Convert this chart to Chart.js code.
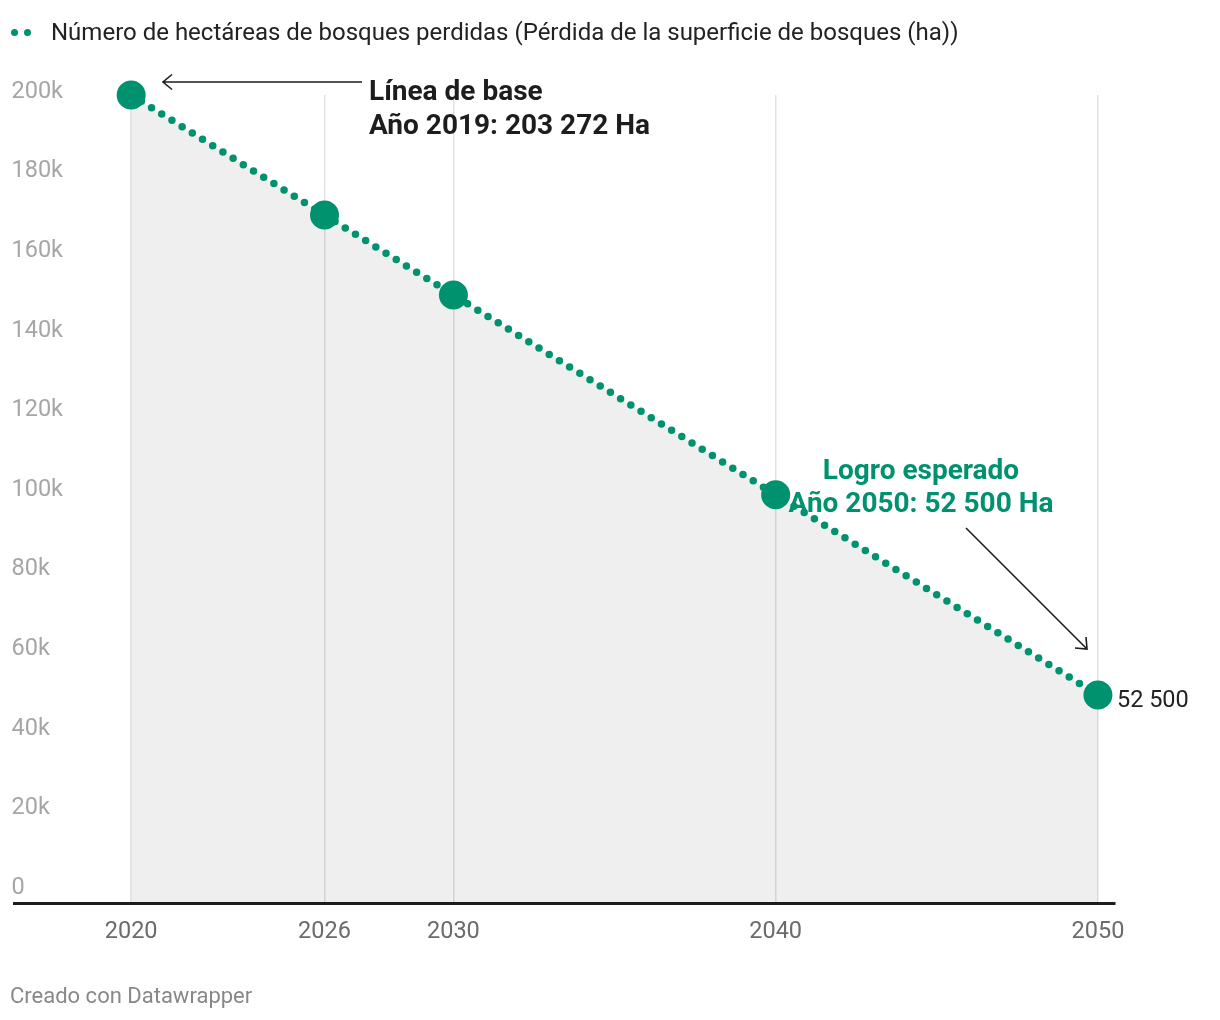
<!DOCTYPE html>
<html>
<head>
<meta charset="utf-8">
<script src="https://cdn.jsdelivr.net/npm/chart.js@4.4.1/dist/chart.umd.min.js"></script>
<style>
  html, body { margin: 0; padding: 0; background: #fff; }
  #wrap { position: relative; width: 1220px; height: 1020px; font-family: Roboto, "Noto Sans", sans-serif; }
  #legend { position: absolute; left: 11px; top: 18px; font-size: 24px; color: #222; display: flex; align-items: center; white-space: nowrap; }
  #legend .dots { display: inline-flex; gap: 6px; margin-right: 20px; }
  #legend .dots span { width: 7px; height: 7px; border-radius: 50%; background: #00916e; display: inline-block; }
  #footer { position: absolute; left: 10px; top: 983px; font-size: 22px; color: #888; }
  canvas { position: absolute; left: 0; top: 0; }
</style>
</head>
<body>
<div id="wrap">
  <canvas id="c" width="1220" height="1020"></canvas>
  <div id="legend"><span class="dots"><span></span><span></span></span>Número de hectáreas de bosques perdidas (Pérdida de la superficie de bosques (ha))</div>
  <div id="footer">Creado con Datawrapper</div>
</div>
<script>
// ---- data ----
const years = [2020, 2026, 2030, 2040, 2050];
const hectares = [203272, 173100, 153000, 102800, 52500];
const xTickValues = [2020, 2026, 2030, 2040, 2050];
const yTickValues = [0, 20000, 40000, 60000, 80000, 100000, 120000, 140000, 160000, 180000, 200000];
const seriesLabel = "Número de hectáreas de bosques perdidas (Pérdida de la superficie de bosques (ha))";
const endLabel = "52 500";

const GREEN = '#00916e';
const FONT = 'Roboto, "Noto Sans", sans-serif';

const annotations = {
  id: 'annotations',
  afterDatasetsDraw(chart) {
    const ctx = chart.ctx;
    const xs = chart.scales.x, ys = chart.scales.y;
    ctx.save();
    // baseline annotation
    ctx.fillStyle = '#1d1d1d';
    ctx.font = 'bold 28px ' + FONT;
    ctx.textAlign = 'left';
    ctx.textBaseline = 'middle';
    ctx.fillText('Línea de base', 369, 93);
    ctx.fillText('Año 2019: 203 272 Ha', 369, 127);
    // arrow 1
    ctx.strokeStyle = '#1d1d1d';
    ctx.lineWidth = 1.6;
    ctx.beginPath();
    ctx.moveTo(362, 82); ctx.lineTo(163, 82);
    ctx.moveTo(172, 74.5); ctx.lineTo(163, 82); ctx.lineTo(172, 89.5);
    ctx.stroke();
    // expected annotation
    ctx.fillStyle = GREEN;
    ctx.textAlign = 'center';
    ctx.fillText('Logro esperado', 921, 472);
    ctx.fillText('Año 2050: 52 500 Ha', 921, 505);
    // arrow 2
    ctx.beginPath();
    ctx.moveTo(966, 528); ctx.lineTo(1087, 649);
    ctx.moveTo(1075, 648); ctx.lineTo(1087, 649); ctx.lineTo(1086, 637);
    ctx.stroke();
    // end value label
    const lx = xs.getPixelForValue(years[years.length - 1]);
    const ly = ys.getPixelForValue(hectares[hectares.length - 1]);
    ctx.fillStyle = '#222';
    ctx.font = '23.5px ' + FONT;
    ctx.textAlign = 'left';
    ctx.fillText(endLabel, lx + 19, ly + 6);
    ctx.restore();
  }
};

new Chart(document.getElementById('c'), {
  type: 'line',
  data: {
    datasets: [{
      label: seriesLabel,
      data: years.map((y, i) => ({ x: y, y: hectares[i] })),
      borderColor: GREEN,
      borderWidth: 7.5,
      borderDash: [0, 12],
      borderCapStyle: 'round',
      backgroundColor: 'rgba(0,0,0,0.062)',
      fill: 'origin',
      tension: 0,
      pointRadius: 14.5,
      pointBackgroundColor: GREEN,
      pointBorderWidth: 0,
      clip: false
    }]
  },
  options: {
    responsive: false,
    animation: false,
    events: [],
    layout: { padding: { top: 95, left: 4, right: 105, bottom: 60 } },
    plugins: { legend: { display: false }, tooltip: { enabled: false } },
    scales: {
      x: {
        type: 'linear',
        min: 2016.38,
        max: 2050.53,
        afterBuildTicks: (s) => { s.ticks = xTickValues.map(v => ({ value: v })); },
        grid: { color: '#e2e2e2', lineWidth: 1.5, drawTicks: false },
        border: { display: true, color: '#1d1d1d', width: 3 },
        ticks: {
          autoSkip: false, maxRotation: 0, padding: 14,
          color: '#6b6b6b', font: { family: FONT, size: 23.5 },
          callback: (v) => String(v)
        }
      },
      y: {
        type: 'linear',
        min: 0,
        max: 203272,
        afterBuildTicks: (s) => { s.ticks = yTickValues.map(v => ({ value: v })); },
        grid: { display: false, drawTicks: false },
        border: { display: false },
        ticks: {
          mirror: true, padding: -1, labelOffset: -16,
          color: '#a6a6a6', font: { family: FONT, size: 23.5 },
          callback: (v) => v === 0 ? '0' : (v / 1000) + 'k'
        }
      }
    }
  },
  plugins: [annotations]
});
</script>
</body>
</html>
